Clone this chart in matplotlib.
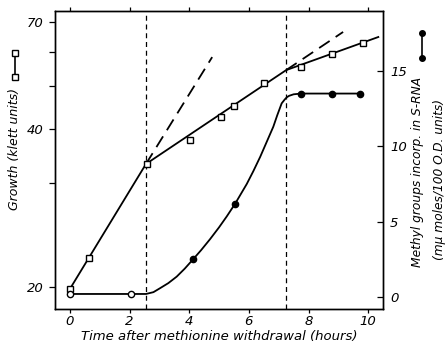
import numpy as np
import matplotlib
matplotlib.use("Agg")
import matplotlib.pyplot as plt
from matplotlib.lines import Line2D
from matplotlib.ticker import FixedLocator, NullFormatter

# growth (klett units), squares
t_growth = [0, 0.64, 2.6, 4.03, 5.07, 5.5, 6.5, 7.75, 8.8, 9.83]
growth = [19.85, 22.4, 33.2, 37.7, 42.6, 45.1, 50.8, 55.3, 59.3, 62.7]
# fitted growth line (vertices)
t_gline = [0, 2.55, 7.25, 10.34]
gline = [19.85, 33.2, 54.4, 64.7]
# dashed extrapolations
t_ext1 = [2.55, 4.77]
ext1 = [33.2, 58.3]
t_ext2 = [7.25, 9.16]
ext2 = [54.4, 66.4]

# methyl groups incorporated, open circles then filled circles
t_open = [0, 2.05]
methyl_open = [0.2, 0.2]
t_filled = [4.13, 5.54, 7.75, 8.8, 9.73]
methyl_filled = [2.5, 6.2, 13.5, 13.5, 13.5]
# hand drawn curve through the methyl points
t_mcurve = [0, 2.05, 2.55, 2.8, 3.02, 3.3, 3.58, 3.85, 4.13, 4.4, 4.70, 5.0, 5.26, 5.54, 5.93,
            6.15, 6.38, 6.6, 6.82, 6.95, 7.10, 7.2, 7.27, 7.35, 7.5, 7.75, 9.73]
mcurve = [0.2, 0.2, 0.2, 0.32, 0.58, 0.92, 1.35, 1.88, 2.5, 3.11, 3.84, 4.62, 5.35, 6.19, 7.5,
          8.35, 9.3, 10.3, 11.3, 12.05, 12.85, 13.1, 13.25, 13.35, 13.45, 13.5, 13.5]

t_shift = [2.55, 7.25]

x_ticks = [0, 2, 4, 6, 8, 10]
g_major = [20, 40, 70]
g_minor = [30, 50, 60]
m_ticks = [0, 5, 10, 15]

# the growth axis of the original is a (not quite regular) log axis
knot_v = np.log([15, 20, 30, 40, 50, 60, 70, 80])
knot_h = np.array([-51.8, 22, 126, 180, 223, 257.3, 287.3, 313.3])

def fwd(v):
    v = np.maximum(np.asarray(v, dtype=float), 1e-6)
    return np.interp(np.log(v), knot_v, knot_h)

def inv(h):
    return np.exp(np.interp(np.asarray(h, dtype=float), knot_h, knot_v))

fnt = dict(family="DejaVu Sans", style="italic")

fig = plt.figure(figsize=(4.47, 3.43), dpi=100)
ax = fig.add_axes([0.123, 0.099, 0.734, 0.869])
ax.set_yscale("function", functions=(fwd, inv))
ax.set_xlim(-0.5, 10.5)
ax.set_ylim(inv(0), inv(298))

for t in t_shift:
    ax.axvline(t, color="black", lw=0.9, ls=(0, (4, 3)))

ax.plot(t_gline, gline, color="black", lw=1.3)
ax.plot(t_ext1, ext1, color="black", lw=1.3, ls=(0, (7, 4)))
ax.plot(t_ext2, ext2, color="black", lw=1.3, ls=(0, (7, 4)))
ax.plot(t_growth, growth, ls="none", marker="s", ms=4.5, mfc="white", mec="black", mew=1.0, zorder=5)

ax.yaxis.set_major_locator(FixedLocator(g_major))
ax.yaxis.set_minor_locator(FixedLocator(g_minor))
ax.yaxis.set_minor_formatter(NullFormatter())
ax.set_yticklabels([str(v) for v in g_major], fontsize=9.5, **fnt)
ax.set_xticks(x_ticks)
ax.set_xticklabels([str(v) for v in x_ticks], fontsize=9.5, **fnt)
ax.tick_params(axis="y", which="both", direction="out", length=4, width=0.9, pad=4)
ax.tick_params(axis="x", direction="out", length=3, width=0.9, pad=1, top=True)
ax.set_xlabel("Time after methionine withdrawal (hours)", fontsize=9.5, labelpad=2, **fnt)

ax2 = ax.twinx()
ax2.set_ylim(-0.8, 18.98)
ax2.plot(t_mcurve, mcurve, color="black", lw=1.3)
ax2.plot(t_open, methyl_open, ls="none", marker="o", ms=4.5, mfc="white", mec="black", mew=1.0, zorder=5)
ax2.plot(t_filled, methyl_filled, ls="none", marker="o", ms=4.5, mfc="black", mec="black", zorder=5)
ax2.set_yticks(m_ticks)
ax2.set_yticklabels([str(v) for v in m_ticks], fontsize=9.5, **fnt)
ax2.tick_params(axis="y", direction="in", length=4, width=0.9, pad=5)

for a in (ax, ax2):
    for s in a.spines.values():
        s.set_linewidth(1.0)

# axis titles with their little key symbols
fig.text(15 / 447, 1 - 149 / 343, "Growth (klett units)", rotation=90, ha="center", va="center", fontsize=9, **fnt)
fig.add_artist(Line2D([15 / 447, 15 / 447], [1 - 53 / 343, 1 - 77 / 343], color="black", lw=1.2,
                      marker="s", ms=4, mfc="white", mec="black"))
fig.text(418 / 447, 1 - 172 / 343, "Methyl groups incorp. in S-RNA", rotation=90, ha="center", va="center", fontsize=8.8, **fnt)
fig.text(440 / 447, 1 - 179 / 343, "(m\u03bc moles/100 O.D. units)", rotation=90, ha="center", va="center", fontsize=8.8, **fnt)
fig.add_artist(Line2D([422 / 447, 422 / 447], [1 - 33 / 343, 1 - 58 / 343], color="black", lw=1.2,
                      marker="o", ms=4, mfc="black", mec="black"))

fig.savefig("out.png", dpi=100)
